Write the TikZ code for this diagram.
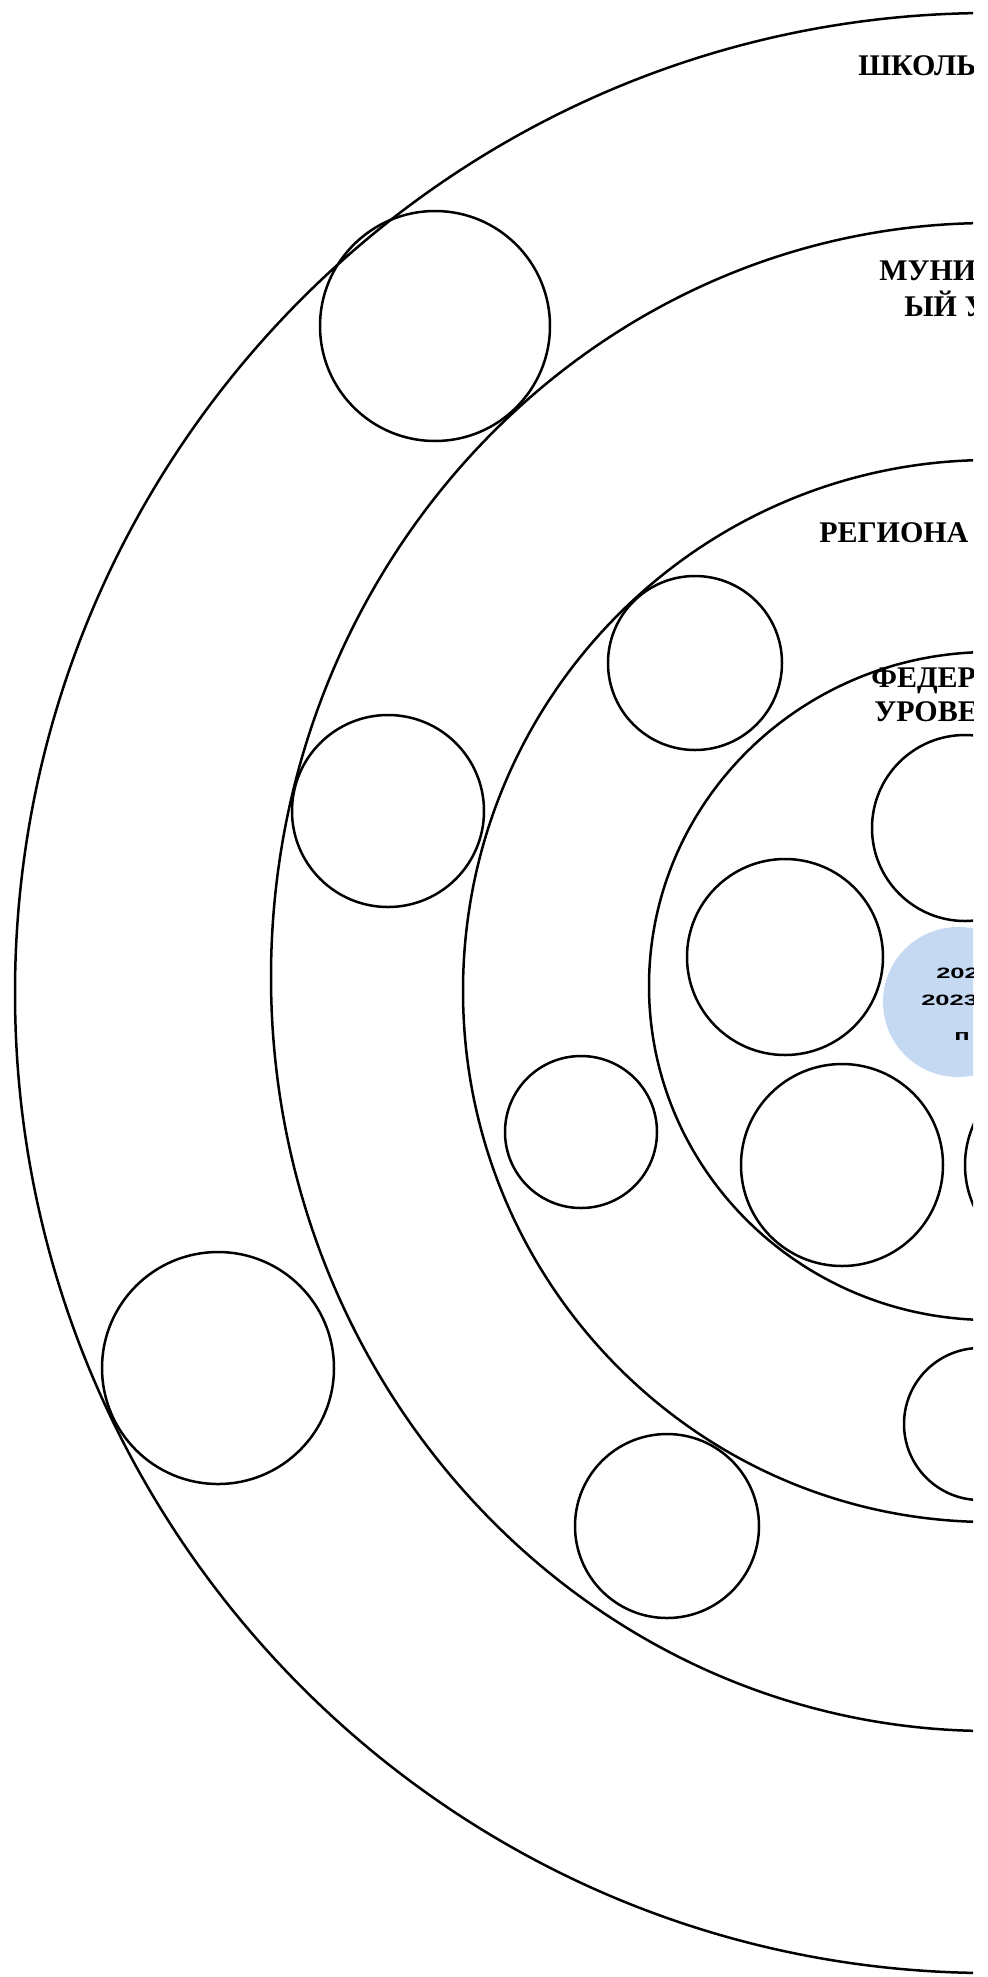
\documentclass[tikz,border=0pt]{standalone}
\usepackage{fontspec}
\setmainfont{Liberation Serif}
\newfontfamily\yearfont[FakeStretch=1.7]{Liberation Sans}
\usepackage{xcolor}
\usepackage{tikz}
\definecolor{paleblue}{RGB}{198,217,243}
\begin{document}
\begin{tikzpicture}[x=0.5pt,y=-0.5pt,line width=1.25pt,
  lvl/.style={inner sep=0pt,anchor=west,font=\bfseries\fontsize{15}{16}\selectfont},
  yr/.style={inner sep=0pt,anchor=west,font=\yearfont\bfseries\fontsize{7.5}{8}\selectfont}]
  \useasboundingbox (0,0) rectangle (987,1977);
  \clip (0,0) rectangle (973,1977);
  \draw (990,993) ellipse [x radius=487.5pt,y radius=490pt];
  \draw (990,977) ellipse [x radius=359.5pt,y radius=377pt];
  \draw (990,991) ellipse [x radius=263.5pt,y radius=265.5pt];
  \draw (990,986) ellipse [x radius=170.5pt,y radius=167pt];
  \draw (435,326) circle [radius=57.5pt];
  \draw (388,811) circle [radius=48pt];
  \draw (695,663) circle [radius=43.5pt];
  \draw (965,828) circle [radius=46.5pt];
  \draw (785,957) circle [radius=49pt];
  \draw (581,1132) circle [radius=38pt];
  \draw (842,1165) circle [radius=50.5pt];
  \draw (1065,1165) circle [radius=50pt];
  \draw (980,1424) circle [radius=38pt];
  \draw (667,1526) circle [radius=46pt];
  \draw (218,1368) circle [radius=58pt];
  \fill[paleblue] (958,1002) circle [radius=37.5pt];
  \node[lvl] (t1) at (857,66) {ШКОЛЬ};
  \node[lvl] (t2) at (878,271) {МУНИ};
  \node[lvl] (t3) at (903,304) {ЫЙ У};
  \node[lvl] (t4) at (818,533) {РЕГИОНА};
  \node[lvl] (t5) at (870,681) {ФЕДЕР};
  \node[lvl] (t6) at (873,712) {УРОВЕ};
  \node[yr] (y1) at (935,973) {202};
  \node[yr] (y2) at (920,1000) {2023};
  \node[yr] (y3) at (953,1037) {п};
\end{tikzpicture}
\end{document}
